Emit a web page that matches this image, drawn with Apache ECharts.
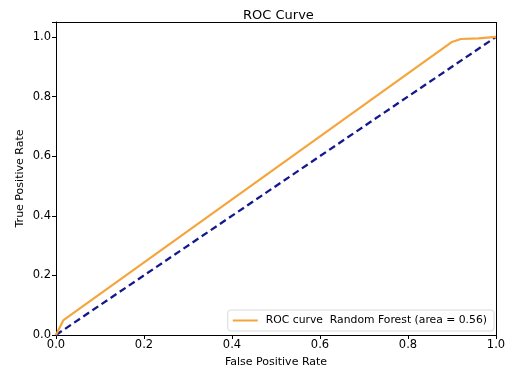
<!DOCTYPE html>
<html><head><meta charset="utf-8">
<script src="https://cdn.jsdelivr.net/npm/echarts@6/dist/echarts.min.js"></script>
<style>html,body{margin:0;padding:0;background:#fff}#c{width:510px;height:379px}</style>
</head><body><div id="c"></div>
<script>
var rocFpr = [0.0, 0.017, 0.90, 0.92, 0.96, 1.0];
var rocTpr = [0.0, 0.05, 0.983, 0.993, 0.995, 1.0];
var diagX = [0, 1];
var diagY = [0, 1];
var xTicks = [0.0, 0.2, 0.4, 0.6, 0.8, 1.0];
var yTicks = [0.0, 0.2, 0.4, 0.6, 0.8, 1.0];
var seriesName = 'ROC curve  Random Forest (area = 0.56)';

var font = 'DejaVu Sans';
var chart = echarts.init(document.getElementById('c'));
chart.setOption({
  animation: false,
  textStyle: {fontFamily: font},
  title: {text: 'ROC Curve', left: 238, top: 4,
    textStyle: {fontFamily: font, fontSize: 13, fontWeight: 'normal', color: '#000'}},
  grid: {left: 56, right: 14, top: 22, bottom: 44, containLabel: false},
  legend: {
    data: [seriesName], right: 16, bottom: 48,
    orient: 'vertical', icon: 'rect', itemWidth: 25, itemHeight: 2,
    itemGap: 0, padding: [5, 7, 5, 5],
    borderColor: '#d9d9d9', borderWidth: 1, borderRadius: 3,
    backgroundColor: 'rgba(255,255,255,0.8)',
    textStyle: {fontFamily: font, fontSize: 10.8, color: '#000', padding: [0, 0, 0, 3]}
  },
  xAxis: {
    type: 'value', min: 0, max: 1, interval: 0.2,
    name: 'False Positive Rate', nameLocation: 'middle', nameGap: 22,
    nameTextStyle: {fontFamily: font, fontSize: 11, color: '#000'},
    axisLine: {lineStyle: {color: '#000', width: 1}},
    axisTick: {show: true, length: 4, lineStyle: {color: '#000'}},
    axisLabel: {fontFamily: font, fontSize: 11.5, color: '#000', margin: 4,
      formatter: function (v) { return v.toFixed(1); }},
    splitLine: {show: false}
  },
  yAxis: {
    type: 'value', min: 0, max: 1.05, interval: 0.2,
    name: 'True Positive Rate', nameLocation: 'middle', nameGap: 30,
    nameMoveOverlap: false,
    nameTextStyle: {fontFamily: font, fontSize: 11, color: '#000'},
    axisLine: {show: true, lineStyle: {color: '#000', width: 1}},
    axisTick: {show: true, length: 4, lineStyle: {color: '#000'}},
    axisLabel: {fontFamily: font, fontSize: 11.5, color: '#000', margin: 5,
      formatter: function (v) { return yTicks.indexOf(Math.round(v*10)/10) >= 0 && v <= 1.0001 ? v.toFixed(1) : ''; }},
    splitLine: {show: false}
  },
  series: [
    {
      name: seriesName, type: 'line', showSymbol: false, symbol: 'none',
      data: rocFpr.map(function (x, i) { return [x, rocTpr[i]]; }),
      lineStyle: {color: '#f5a53c', width: 2.2},
      itemStyle: {color: '#f5a53c'}, z: 3
    },
    {
      name: 'diag', type: 'line', showSymbol: false, symbol: 'none',
      data: diagX.map(function (x, i) { return [x, diagY[i]]; }),
      lineStyle: {color: '#14198c', width: 2.3, type: [7, 4]}, z: 2
    },
    {
      name: 'frame', type: 'line', symbol: 'none', silent: true, data: [],
      markLine: {silent: true, symbol: 'none', label: {show: false},
        lineStyle: {color: '#000', width: 1, type: 'solid'},
        data: [[{coord: [0, 1.05]}, {coord: [1, 1.05]}], [{coord: [1, 0]}, {coord: [1, 1.05]}]]}
    }
  ]
});
</script></body></html>
